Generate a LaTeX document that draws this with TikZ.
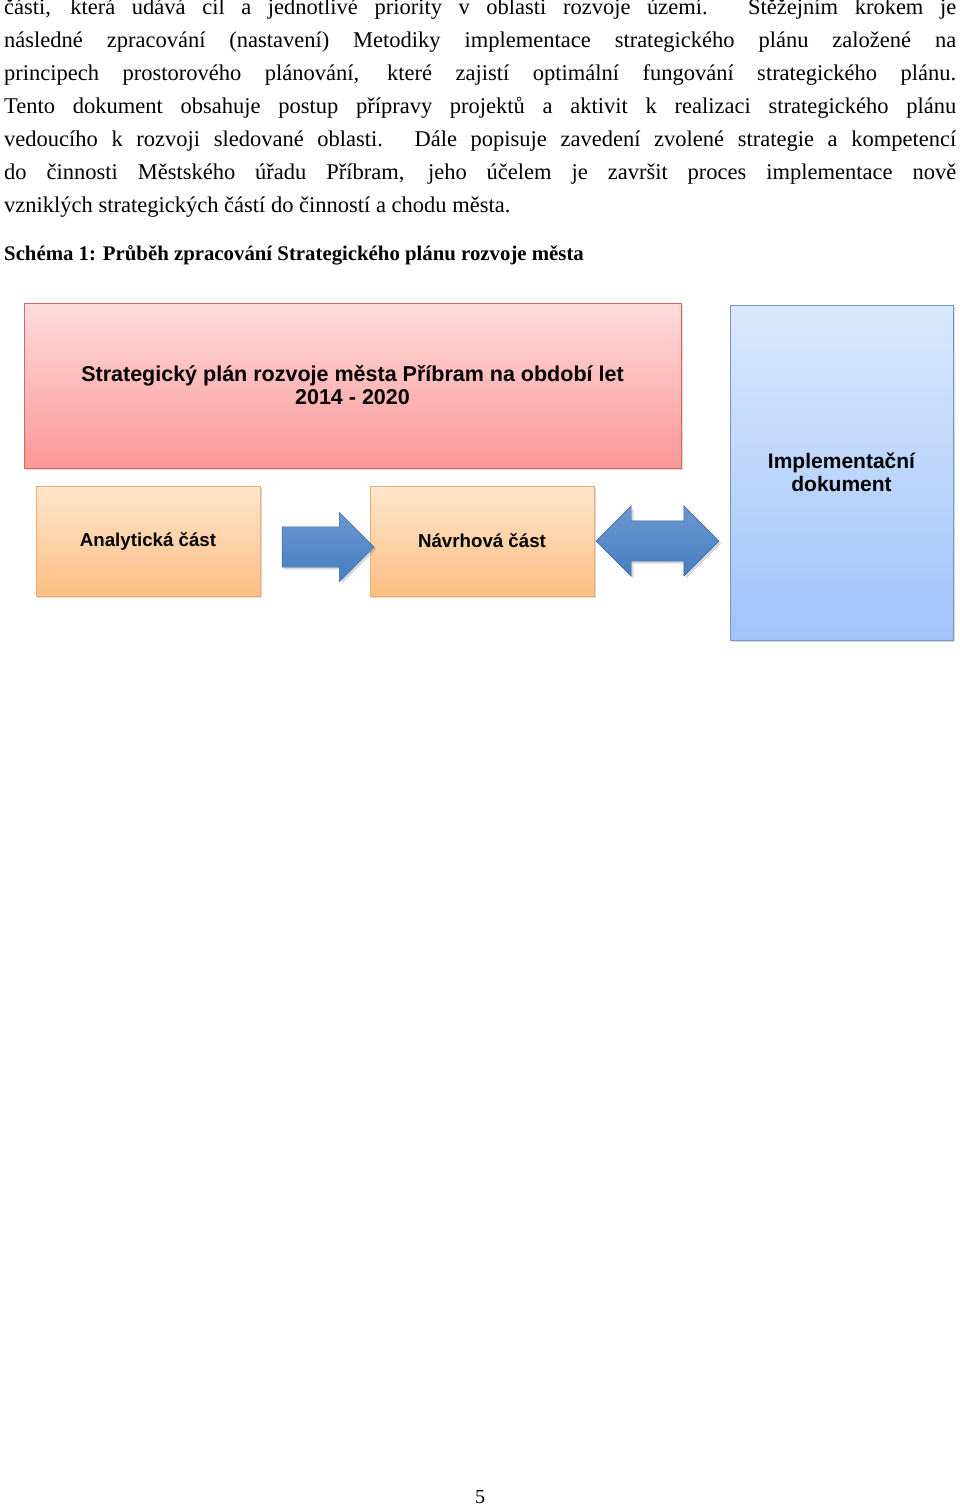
\documentclass[tikz,border=0pt]{standalone}
\usepackage{fontspec}
\setmainfont{Liberation Serif}
\newfontfamily\diagfont{Liberation Sans}
\usetikzlibrary{shapes.arrows,shadows}
\definecolor{redtop}{RGB}{255,220,220}
\definecolor{redbot}{RGB}{252,150,150}
\definecolor{redline}{RGB}{220,100,100}
\definecolor{bluetop}{RGB}{218,232,252}
\definecolor{bluebot}{RGB}{160,195,250}
\definecolor{blueline}{RGB}{110,150,210}
\definecolor{ortop}{RGB}{255,230,205}
\definecolor{orbot}{RGB}{252,190,130}
\definecolor{orline}{RGB}{240,170,110}
\definecolor{arrowblue}{RGB}{70,125,195}
\tikzset{
  partbox/.style={draw, line width=1pt, drop shadow={opacity=0.3, shadow xshift=2pt, shadow yshift=-2pt},
    font=\diagfont\bfseries\fontsize{21}{23}\selectfont, align=center, inner sep=0pt},
  bluearrow/.style={draw=arrowblue!80!black, top color=arrowblue!80, bottom color=arrowblue,
    drop shadow={opacity=0.3}, inner xsep=0pt, text height=0pt, text depth=0pt}
}
\begin{document}
\begin{tikzpicture}[x=1pt,y=-1pt]
\useasboundingbox (0,0) rectangle (960,1508);

% Text Node
\node (para) [anchor=north west, inner sep=0pt, text width=952pt, align=justify,
  font=\fontsize{22.5}{33}\selectfont] at (4,-1) {%
části, která udává cíl a jednotlivé priority v oblasti rozvoje území. Stěžejním krokem je\linebreak
následné zpracování (nastavení) Metodiky implementace strategického plánu založené na\linebreak
principech prostorového plánování, které zajistí optimální fungování strategického plánu.\linebreak
Tento dokument obsahuje postup přípravy projektů a aktivit k realizaci strategického plánu\linebreak
vedoucího k rozvoji sledované oblasti. Dále popisuje zavedení zvolené strategie a kompetencí\linebreak
do činnosti Městského úřadu Příbram, jeho účelem je završit proces implementace nově\linebreak
vzniklých strategických částí do činností a chodu města.};
% Text Node
\node (caption) [anchor=west, inner sep=0pt, font=\bfseries\fontsize{20.8}{23}\selectfont]
  at (4,255) {Schéma 1: Průběh zpracování Strategického plánu rozvoje města};

% Shapes
\node (plan) [partbox, draw=redline, top color=redtop, bottom color=redbot,
  minimum width=657pt, minimum height=165pt, font=\diagfont\bfseries\fontsize{21.5}{23}\selectfont]
  at (352.5,385.5) {Strategický plán rozvoje města Příbram na období let\\2014 - 2020};
\node (impl) [partbox, draw=blueline, top color=bluetop, bottom color=bluebot,
  minimum width=223pt, minimum height=335pt] at (841.5,472.5)
  {Implementační\\dokument};
\node (anal) [partbox, draw=orline, top color=ortop, bottom color=orbot,
  minimum width=224pt, minimum height=110pt, font=\diagfont\bfseries\fontsize{18.7}{20}\selectfont]
  at (148,541) {Analytická část};
\node (navr) [partbox, draw=orline, top color=ortop, bottom color=orbot,
  minimum width=224pt, minimum height=110pt, font=\diagfont\bfseries\fontsize{18.7}{20}\selectfont]
  at (482,541) {Návrhová část};

% Arrows
\node (fwd) [bluearrow, single arrow, inner ysep=20pt, minimum width=69pt,
  single arrow head extend=14.5pt, minimum height=92pt] at (318,547) {};
\node (both) [bluearrow, double arrow, inner ysep=20pt, minimum width=70pt,
  double arrow head extend=15pt, minimum height=123pt] at (657.5,541) {};

% Text Node
\node (page) [font=\fontsize{20}{24}\selectfont] at (480,1497) {5};
\end{tikzpicture}
\end{document}
